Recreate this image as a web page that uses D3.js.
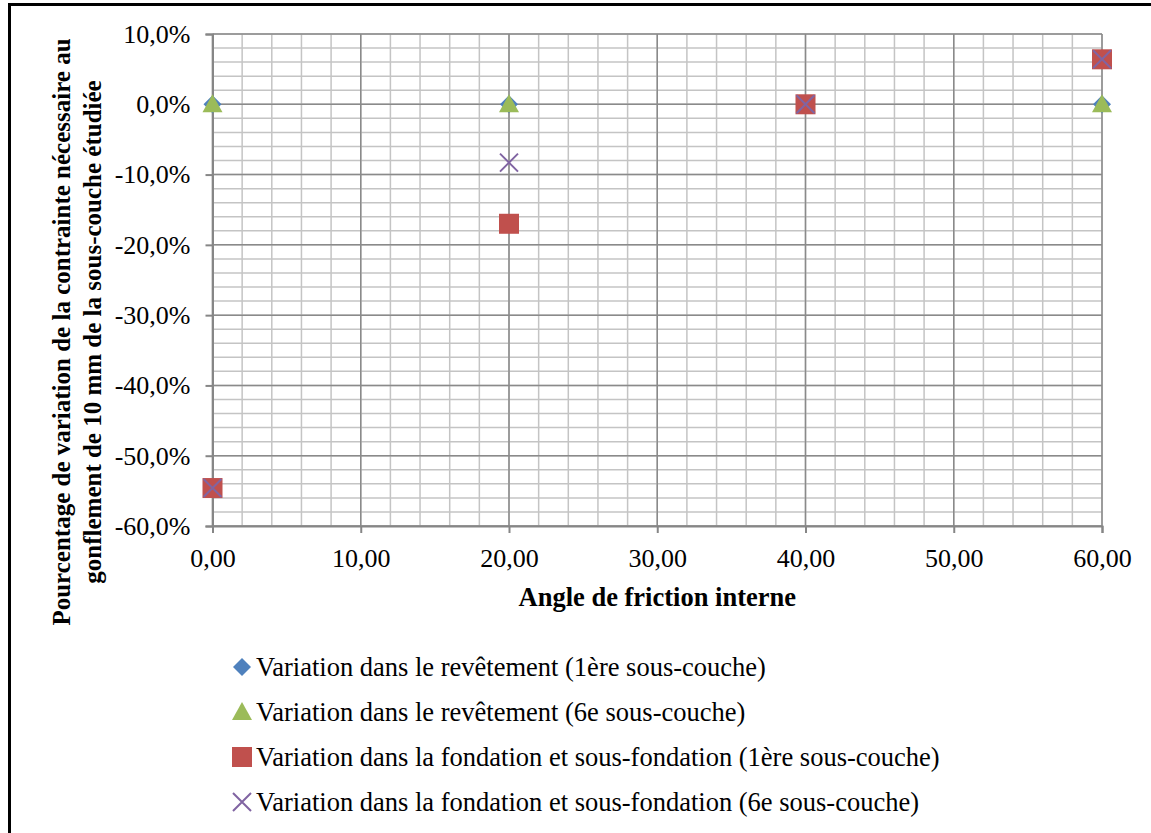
<!DOCTYPE html>
<html>
<head>
<meta charset="utf-8">
<script src="https://cdn.jsdelivr.net/npm/d3@7"></script>
<style>
  body { margin: 0; background: #fff; }
  svg { display: block; }
  svg text { font-family: 'Liberation Serif', 'Times New Roman', serif; fill: #000; }
</style>
</head>
<body>
<svg id="canvas" width="1151" height="833"></svg>
<script>
// data
const angles = [0, 20, 40, 60]
const revet1 = [0, 0, 0, 0]            // blue diamonds
const revet6 = [0, 0, 0, 0]            // green triangles
const fond1 = [-0.546, -0.170, 0, 0.064] // red squares
const fond6 = [-0.546, -0.083, 0, 0.064] // purple crosses

const seriesNames = [
    "Variation dans le revêtement (1ère sous-couche)",
    "Variation dans le revêtement (6e sous-couche)",
    "Variation dans la fondation et sous-fondation (1ère sous-couche)",
    "Variation dans la fondation et sous-fondation (6e sous-couche)"
]
const seriesValues = [revet1, revet6, fond1, fond6]
const seriesColors = ["#4F81BD", "#9BBB59", "#C0504D", "#8064A2"]
const seriesShapes = ["diamond", "triangle", "square", "cross"]

const xTicks = [0, 10, 20, 30, 40, 50, 60]
const yTicks = [-0.6, -0.5, -0.4, -0.3, -0.2, -0.1, 0, 0.1]

const frLocale = d3.formatLocale({decimal: ",", thousands: " ", grouping: [3], currency: ["", " €"], minus: "-", percent: "%"})
const fmtX = frLocale.format(".2f")
const fmtY = frLocale.format(".1%")

const svg = d3.select("#canvas")

// outer frame (cut by the picture on the right and bottom)
svg.append("rect")
    .attr("x", 9.5).attr("y", 4.5)
    .attr("width", 1160).attr("height", 850)
    .attr("fill", "none").attr("stroke", "#000").attr("stroke-width", 3)

const x = d3.scaleLinear().domain([0, 60]).range([212.5, 1102])
const y = d3.scaleLinear().domain([-0.6, 0.1]).range([526, 34])

const grid = svg.append("g")
// minor gridlines
const xMinor = d3.range(0, 60.001, 2)
const yMinor = d3.range(-0.6, 0.1001, 0.02)
grid.selectAll(".xminor").data(xMinor).enter().append("line")
    .attr("x1", d => x(d)).attr("x2", d => x(d))
    .attr("y1", y(0.1)).attr("y2", y(-0.6))
    .attr("stroke", "#c4c4c4").attr("stroke-width", 1.5)
grid.selectAll(".yminor").data(yMinor).enter().append("line")
    .attr("x1", x(0)).attr("x2", x(60))
    .attr("y1", d => y(d)).attr("y2", d => y(d))
    .attr("stroke", "#c4c4c4").attr("stroke-width", 1.5)
// major gridlines
grid.selectAll(".xmajor").data(xTicks).enter().append("line")
    .attr("x1", d => x(d)).attr("x2", d => x(d))
    .attr("y1", y(0.1)).attr("y2", y(-0.6))
    .attr("stroke", "#8a8a8a").attr("stroke-width", 1.5)
grid.selectAll(".ymajor").data(yTicks).enter().append("line")
    .attr("x1", x(0)).attr("x2", x(60))
    .attr("y1", d => y(d)).attr("y2", d => y(d))
    .attr("stroke", "#8a8a8a").attr("stroke-width", 1.5)

// axes
svg.append("g")
    .attr("transform", `translate(0, ${y(-0.6)})`)
    .call(d3.axisBottom(x).tickValues(xTicks).tickFormat(fmtX).tickSize(7).tickPadding(16))
svg.append("g")
    .attr("transform", `translate(${x(0)}, 0)`)
    .call(d3.axisLeft(y).tickValues(yTicks).tickFormat(fmtY).tickSize(7).tickPadding(15))
svg.selectAll(".domain").attr("stroke", "#868686").attr("stroke-width", 2)
svg.selectAll(".tick line").attr("stroke", "#868686").attr("stroke-width", 2)
svg.selectAll(".tick text").attr("font-size", 26)

// axis titles
svg.append("text")
    .attr("x", (x(0) + x(60)) / 2).attr("y", 606)
    .attr("text-anchor", "middle")
    .attr("font-size", 26.5).attr("font-weight", "bold")
    .text("Angle de friction interne")

const yTitle = svg.append("text")
    .attr("transform", `translate(70, 332) rotate(-90)`)
    .attr("text-anchor", "middle")
    .attr("font-size", 25).attr("font-weight", "bold")
yTitle.append("tspan").attr("x", 0).attr("y", 0)
    .text("Pourcentage de variation de la contrainte nécessaire au")
yTitle.append("tspan").attr("x", 0).attr("y", 31)
    .text("gonflement de 10 mm de la sous-couche étudiée")

// marker drawing
const drawMarker = (g, shape, color) => {
    if (shape === "diamond") {
        g.append("path").attr("d", "M0,-9L9,0L0,9L-9,0Z").attr("fill", color)
    } else if (shape === "triangle") {
        g.append("path").attr("d", "M0,-10L10,8L-10,8Z").attr("fill", color)
    } else if (shape === "square") {
        g.append("rect").attr("x", -10).attr("y", -10).attr("width", 20).attr("height", 20).attr("fill", color)
    } else {
        g.append("path").attr("d", "M-9,-9L9,9M-9,9L9,-9")
            .attr("stroke", color).attr("stroke-width", 2).attr("fill", "none")
    }
}

// points
seriesValues.forEach((vals, i) => {
    const pts = svg.append("g")
    angles.forEach((a, j) => {
        const g = pts.append("g").attr("transform", `translate(${x(a)}, ${y(vals[j])})`)
        drawMarker(g, seriesShapes[i], seriesColors[i])
    })
})

// legend
const legend = svg.append("g")
seriesNames.forEach((name, i) => {
    const row = legend.append("g").attr("transform", `translate(242, ${667 + i * 45})`)
    drawMarker(row, seriesShapes[i], seriesColors[i])
    row.append("text").attr("x", 14).attr("y", 0).attr("dy", "0.33em")
        .attr("font-size", 26.5)
        .text(name)
})
</script>
</body>
</html>
